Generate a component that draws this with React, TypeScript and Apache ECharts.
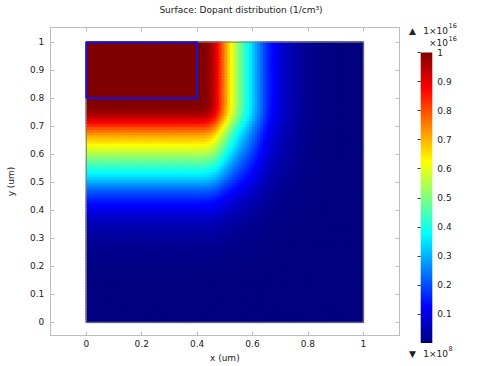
import React, { useEffect, useRef } from "react";
import * as echarts from "echarts";

// ---- data ----
const titleText = "Surface: Dopant distribution (1/cm³)";
const xTickValues = [0, 0.2, 0.4, 0.6, 0.8, 1];
const yTickValues = [0, 0.1, 0.2, 0.3, 0.4, 0.5, 0.6, 0.7, 0.8, 0.9, 1];
const colorbarTickValues = [0.1, 0.2, 0.3, 0.4, 0.5, 0.6, 0.7, 0.8, 0.9, 1];
const xRange = [-0.13, 1.13];
const yRange = [-0.048, 1.053];
const jetColors = [
  "#000080", "#0000ff", "#0080ff", "#00ffff", "#80ff80",
  "#ffff00", "#ff8000", "#ff0000", "#800000",
];
// normalised concentration (x 1e16) along the top edge, cell centres x = 0.005 ... 0.995
const xProfile = [
  1, 1, 1, 1, 1, 1, 1, 1, 1, 1, 1, 1, 1, 1, 1, 1, 1, 1, 1, 1,
  1, 1, 1, 1, 1, 1, 1, 1, 1, 1, 1, 1, 1, 1, 1, 1, 1, 1, 1, 1, 1,
  0.9995, 0.997, 0.99, 0.975, 0.953, 0.923, 0.883, 0.83, 0.775, 0.725,
  0.673, 0.622, 0.578, 0.535, 0.495, 0.458, 0.423, 0.39, 0.358, 0.323,
  0.288, 0.255, 0.225, 0.195, 0.168, 0.145, 0.128, 0.113, 0.098, 0.086,
  0.075, 0.066, 0.058, 0.05, 0.043, 0.036, 0.03, 0.025, 0.02, 0.016,
  0.013, 0.011, 0.009, 0.007, 0.005, 0.0035, 0.0025, 0.002, 0.0015, 0.001,
  0.001,
  0, 0, 0, 0, 0, 0, 0, 0,
];
// normalised concentration along the left edge, cell centres y = 0.005 ... 0.995
const yProfile = [
  0, 0, 0, 0, 0, 0, 0, 0, 0, 0, 0, 0, 0, 0,
  0.0008, 0.0012, 0.0018, 0.0025, 0.0035, 0.0045, 0.0055, 0.0068, 0.0082, 0.01,
  0.012, 0.014, 0.016, 0.0185, 0.0215, 0.025, 0.029, 0.033, 0.0375, 0.043,
  0.049, 0.056, 0.064, 0.0735, 0.0845, 0.096, 0.108, 0.121, 0.133, 0.148,
  0.166, 0.185, 0.205, 0.226, 0.248, 0.274, 0.302, 0.327, 0.349, 0.372,
  0.397, 0.422, 0.447, 0.472, 0.497, 0.523, 0.551, 0.577, 0.602, 0.627,
  0.652, 0.677, 0.702, 0.732, 0.765, 0.797, 0.835, 0.872, 0.905, 0.934,
  0.959, 0.976, 0.988, 0.995, 0.999, 1,
  1, 1, 1, 1, 1, 1, 1, 1, 1, 1, 1, 1, 1, 1, 1, 1, 1, 1, 1, 1,
];
const CELL = 0.01;
const domainOutlineX = [0, 1, 1, 0, 0];
const domainOutlineY = [0, 0, 1, 1, 0];
const sourceOutlineX = [0, 0.4, 0.4, 0, 0];
const sourceOutlineY = [0.8, 0.8, 1, 1, 0.8];
const colorbarRange = [0, 1];

const FONT = "DejaVu Sans";
const TEXT = "#222";
const FRAME = "#bdbdbd";

export default function App() {
  const ref = useRef<HTMLDivElement>(null);
  useEffect(() => {
    if (!ref.current) return;
    const chart = echarts.init(ref.current, undefined, { renderer: "svg" });

    const cells: number[][] = [];
    for (let j = 0; j < yProfile.length; j++) {
      for (let i = 0; i < xProfile.length; i++) {
        cells.push([CELL / 2 + i * CELL, CELL / 2 + j * CELL, xProfile[i] * yProfile[j]]);
      }
    }

    const tickStyle = { inside: true, length: 4, lineStyle: { color: FRAME } };
    const lineStyle = { lineStyle: { color: FRAME, width: 1 } };
    const labelStyle = { color: TEXT, fontSize: 9, fontFamily: FONT };
    const headStyle = { fontSize: 9, fontFamily: FONT, fill: TEXT, verticalAlign: "middle" };
    const supStyle = { fontSize: 6.5, fontFamily: FONT, fill: TEXT, align: "left", verticalAlign: "middle" };

    const option: any = {
      animation: false,
      title: {
        text: titleText,
        left: "center",
        top: 5,
        padding: 0,
        textStyle: { color: TEXT, fontSize: 9, fontWeight: "normal", fontFamily: FONT },
      },
      grid: [
        { left: 50.3, top: 27.3, width: 349, height: 308.4, containLabel: false, outerBoundsMode: "none" },
        { left: 420.7, top: 52.5, width: 11.6, height: 290.5, containLabel: false, outerBoundsMode: "none" },
      ],
      xAxis: [
        {
          type: "value", gridIndex: 0, position: "bottom", min: xRange[0], max: xRange[1],
          axisLine: { show: true, onZero: false, ...lineStyle },
          axisTick: { ...tickStyle, customValues: xTickValues },
          axisLabel: { ...labelStyle, margin: 4, customValues: xTickValues },
          splitLine: { show: false },
          name: "x (um)", nameLocation: "middle", nameGap: 9.5,
          nameTextStyle: { ...labelStyle },
        },
        {
          type: "value", gridIndex: 0, position: "top", min: xRange[0], max: xRange[1],
          axisLine: { show: true, onZero: false, ...lineStyle },
          axisTick: { ...tickStyle, customValues: xTickValues },
          axisLabel: { show: false },
          splitLine: { show: false },
        },
        {
          type: "value", gridIndex: 1, min: 0, max: 1, show: false,
        },
      ],
      yAxis: [
        {
          type: "value", gridIndex: 0, position: "left", min: yRange[0], max: yRange[1],
          axisLine: { show: true, onZero: false, ...lineStyle },
          axisTick: { ...tickStyle, customValues: yTickValues },
          axisLabel: { ...labelStyle, margin: 6, customValues: yTickValues },
          splitLine: { show: false },
          name: "y (um)", nameLocation: "middle", nameGap: 35, nameRotate: 90,
          nameTextStyle: { ...labelStyle },
        },
        {
          type: "value", gridIndex: 0, position: "right", min: yRange[0], max: yRange[1],
          axisLine: { show: true, onZero: false, ...lineStyle },
          axisTick: { ...tickStyle, customValues: yTickValues },
          axisLabel: { show: false },
          splitLine: { show: false },
        },
        {
          type: "value", gridIndex: 1, position: "right", min: colorbarRange[0], max: colorbarRange[1],
          axisLine: { show: false },
          axisTick: { inside: true, length: 3, lineStyle: { color: "#333" }, customValues: colorbarTickValues },
          axisLabel: { ...labelStyle, margin: 5, customValues: colorbarTickValues },
          splitLine: { show: false },
        },
      ],
      visualMap: {
        show: false,
        type: "continuous",
        min: 0,
        max: 1,
        dimension: 2,
        seriesIndex: 0,
        inRange: { color: jetColors },
      },
      series: [
        {
          type: "custom",
          xAxisIndex: 0,
          yAxisIndex: 0,
          silent: true,
          progressive: 0,
          encode: { x: 0, y: 1 },
          data: cells,
          renderItem: (_p: any, api: any) => {
            const x = api.value(0);
            const y = api.value(1);
            const tl = api.coord([x - CELL / 2, y + CELL / 2]);
            const br = api.coord([x + CELL / 2, y - CELL / 2]);
            const c = api.visual("color");
            return {
              type: "rect",
              shape: { x: tl[0] - 0.5, y: tl[1] - 0.5, width: br[0] - tl[0] + 1, height: br[1] - tl[1] + 1 },
              style: { fill: c, stroke: c, lineWidth: 0.3 },
            };
          },
        },
        {
          type: "line",
          xAxisIndex: 0,
          yAxisIndex: 0,
          silent: true,
          symbol: "none",
          data: domainOutlineX.map((x, i) => [x, domainOutlineY[i]]),
          lineStyle: { color: "#7a7a7a", width: 1 },
          z: 3,
        },
        {
          type: "line",
          xAxisIndex: 0,
          yAxisIndex: 0,
          silent: true,
          symbol: "none",
          data: sourceOutlineX.map((x, i) => [x, sourceOutlineY[i]]),
          lineStyle: { color: "#1010f0", width: 2 },
          z: 4,
        },
        {
          type: "custom",
          xAxisIndex: 2,
          yAxisIndex: 2,
          silent: true,
          encode: { x: 0, y: [1, 2] },
          data: [[0, colorbarRange[0], colorbarRange[1]]],
          renderItem: (_p: any, api: any) => {
            const tl = api.coord([0, api.value(2)]);
            const br = api.coord([1, api.value(1)]);
            return {
              type: "rect",
              shape: { x: tl[0], y: tl[1], width: br[0] - tl[0], height: br[1] - tl[1] },
              style: {
                fill: new echarts.graphic.LinearGradient(
                  0, 1, 0, 0,
                  jetColors.map((c, i) => ({ offset: i / (jetColors.length - 1), color: c }))
                ),
              },
            };
          },
        },
      ],
      graphic: [
        { type: "text", x: 409, y: 30.5, style: { ...headStyle, text: "▲", align: "left" } },
        { type: "text", x: 448, y: 30.5, style: { ...headStyle, text: "1×10", align: "right" } },
        { type: "text", x: 448.5, y: 26.3, style: { ...supStyle, text: "16" } },
        { type: "text", x: 448, y: 42.8, style: { ...headStyle, text: "×10", align: "right" } },
        { type: "text", x: 448.5, y: 38.8, style: { ...supStyle, text: "16" } },
        { type: "text", x: 409, y: 353.5, style: { ...headStyle, text: "▼", align: "left" } },
        { type: "text", x: 448, y: 353.5, style: { ...headStyle, text: "1×10", align: "right" } },
        { type: "text", x: 448.5, y: 349.3, style: { ...supStyle, text: "8" } },
      ],
    };
    chart.setOption(option);
    return () => chart.dispose();
  }, []);
  return (
    <div
      ref={ref}
      style={{ position: "fixed", left: 0, top: 0, width: 482, height: 366, background: "#fff" }}
    />
  );
}
